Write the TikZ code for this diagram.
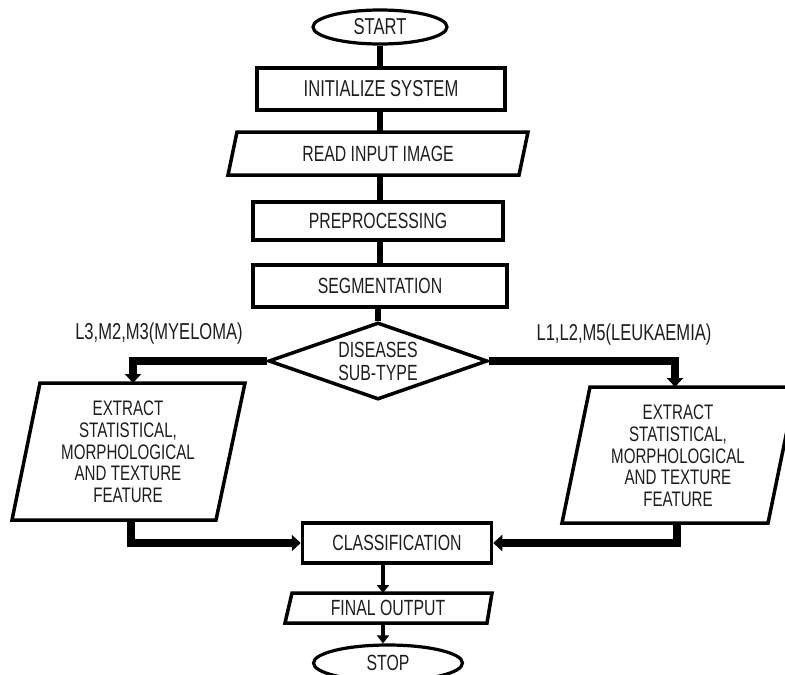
\documentclass[tikz,border=0pt]{standalone}
\usepackage{fontspec}
\setmainfont[FakeStretch=0.72]{Liberation Sans}
\usetikzlibrary{shapes.geometric,arrows.meta}
\definecolor{txt}{HTML}{1E1E1E}
\begin{document}
\begin{tikzpicture}[x=1pt,y=-1pt,
  every node/.style={font=\fontsize{22}{24}\selectfont, text=txt},
  bigtxt/.style={font=\fontsize{23}{25}\selectfont},
  smalltxt/.style={font=\fontsize{21}{21.7}\selectfont},
  procbox/.style={draw, line width=3.5pt, rectangle, inner sep=0pt},
  term/.style={draw, line width=3.2pt, ellipse, inner sep=0pt},
  decis/.style={draw, line width=3.5pt, diamond, aspect=2.84, inner sep=0pt, minimum width=219pt, minimum height=77pt},
  shapeline/.style={line width=3.5pt, line join=miter},
  vline/.style={line width=5.5pt},
  vlinearr/.style={line width=4.5pt, -{Triangle[length=8pt,width=12pt]}},
  bline/.style={line width=8pt, line join=miter, -{Triangle[length=9pt,width=16pt]}},
  lbl/.style={inner sep=0pt}
]
\useasboundingbox (0,0) rectangle (785,675);

% terminals and process boxes
\node[term, bigtxt, minimum width=134pt, minimum height=34pt] (start) at (380,27) {START};
\node[procbox, bigtxt, minimum width=248pt, minimum height=42pt] (init) at (381,89) {INITIALIZE SYSTEM};

% read input parallelogram
\draw[shapeline] (237,132) -- (528,132) -- (519,175) -- (228,175) -- cycle;
\node[lbl] (read) at (378,154) {READ INPUT IMAGE};
\coordinate (readT) at (380,132);
\coordinate (readB) at (380,175);

\node[procbox, minimum width=250pt, minimum height=38pt] (pre) at (378,221) {PREPROCESSING};
\node[procbox, minimum width=254pt, minimum height=42pt] (seg) at (380,286) {SEGMENTATION};
\node[decis, align=center, font=\fontsize{22}{23}\selectfont] (dec) at (378,361) {DISEASES\\SUB-TYPE};

% branch labels
\node[lbl, bigtxt] (lblL) at (159,334) {L3,M2,M3(MYELOMA)};
\node[lbl, bigtxt] (lblR) at (624,335) {L1,L2,M5(LEUKAEMIA)};

% left extract parallelogram
\draw[shapeline] (40,383) -- (245,383) -- (216,520) -- (12,520) -- cycle;
\node[lbl, smalltxt, align=center] (extL) at (128,452) {EXTRACT\\STATISTICAL,\\MORPHOLOGICAL\\AND TEXTURE\\FEATURE};
\coordinate (extLT) at (133,383);
\coordinate (extLB) at (131,520);

% right extract parallelogram
\draw[shapeline] (590,387) -- (796,387) -- (768,523) -- (562,523) -- cycle;
\node[lbl, smalltxt, align=center] (extR) at (678,456) {EXTRACT\\STATISTICAL,\\MORPHOLOGICAL\\AND TEXTURE\\FEATURE};
\coordinate (extRT) at (675,387);
\coordinate (extRB) at (677,523);

\node[procbox, minimum width=189pt, minimum height=40pt] (class) at (397,543) {CLASSIFICATION};

% final output parallelogram
\draw[shapeline] (292,593) -- (492,593) -- (487,623) -- (285,623) -- cycle;
\node[lbl] (final) at (388,608) {FINAL OUTPUT};
\coordinate (finT) at (383,593);
\coordinate (finB) at (383,623);

\node[term, minimum width=149pt, minimum height=36pt] (stop) at (388,663) {STOP};

% main connectors
\draw[vline] (start.south) -- (start.south |- init.north);
\draw[vline] (init.south -| readT) -- (readT);
\draw[vline] (readB) -- (readB |- pre.north);
\draw[vline] (pre.south -| readB) -- (readB |- seg.north);
\draw[vline] (seg.south -| dec.north) -- (dec.north);

% branches
\draw[bline] (dec.west) -| (extLT);
\draw[bline] (dec.east) -| (extRT);
\draw[bline] (extLB) |- (class.west);
\draw[bline] (extRB) |- (class.east);

% lower connectors
\draw[vlinearr] (class.south -| finT) -- (finT);
\draw[vlinearr] (finB) -- (finB |- stop.north);
\end{tikzpicture}
\end{document}
